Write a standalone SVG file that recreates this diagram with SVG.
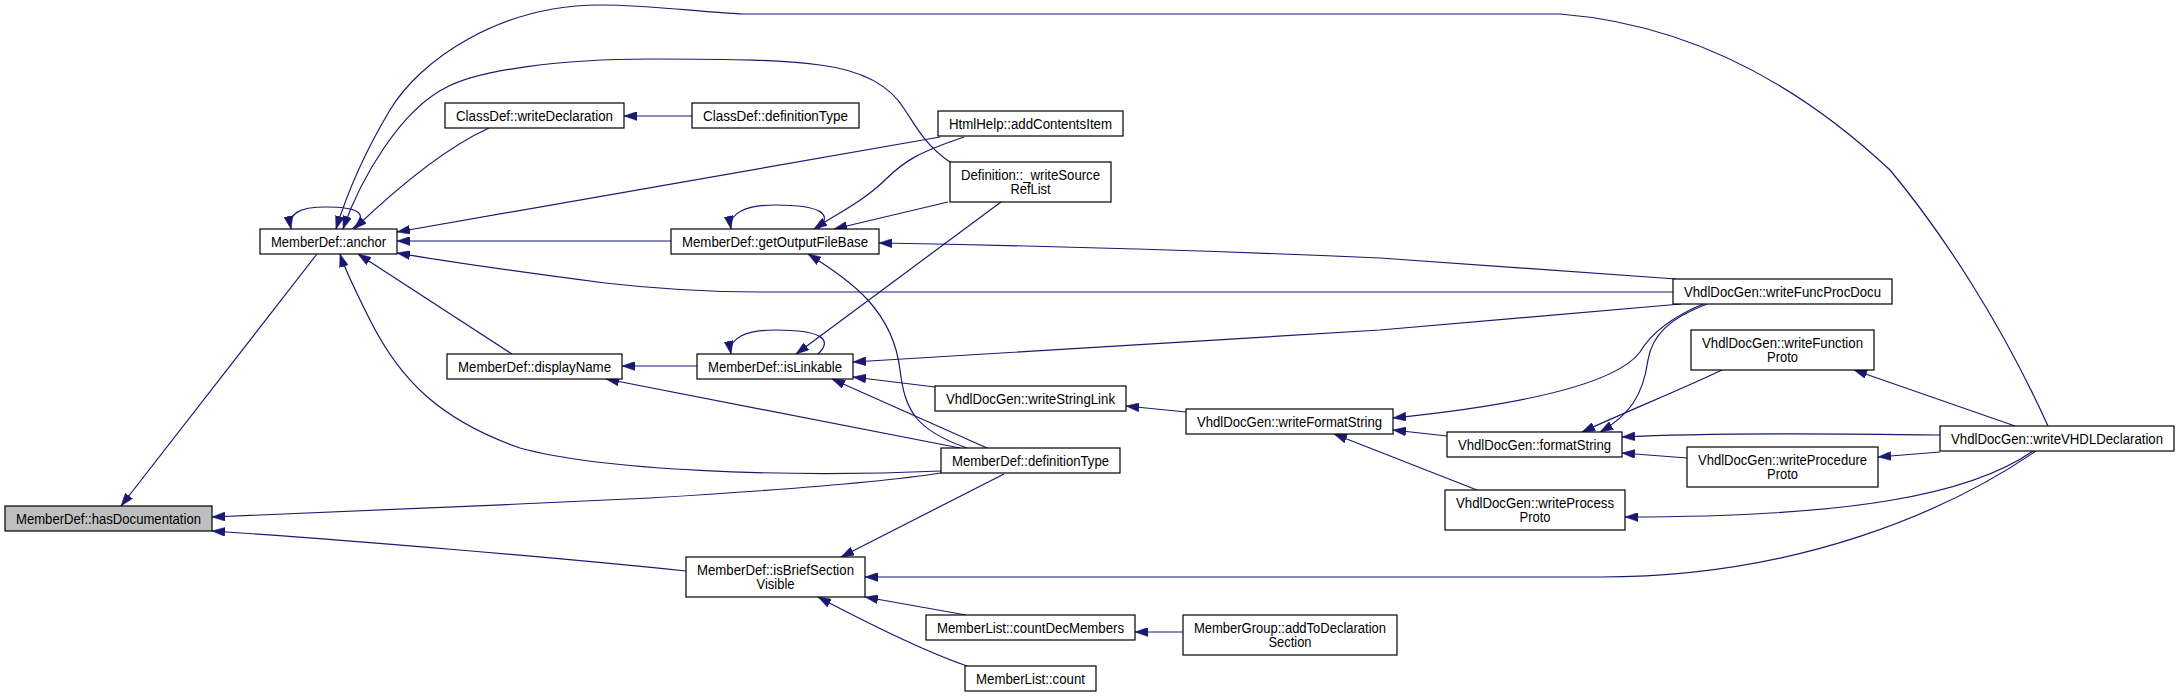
<svg xmlns="http://www.w3.org/2000/svg" width="2180" height="697" viewBox="0 0 2180 697">
<style>
.n rect{fill:#ffffff;stroke:#000000;stroke-width:1.2}
.n.h rect{fill:#bfbfbf}
.n text{font-family:"Liberation Sans",Arial,Helvetica,sans-serif;font-size:14px;fill:#000;text-anchor:middle}
.e path{fill:none;stroke:#191970;stroke-width:1.2;marker-end:url(#ah)}
</style>
<defs>
<marker id="ah" viewBox="0 0 13 9" refX="13" refY="4.5" markerWidth="13" markerHeight="9" markerUnits="userSpaceOnUse" orient="auto">
<path d="M0,0 L13,4.5 L0,9 z" fill="#191970" stroke="#191970" stroke-width="0.5"/>
</marker>
</defs>
<rect width="2180" height="697" fill="#ffffff"/>
<g id="edges" class="e">
<path d="M317,254 L121,506"/>
<path d="M686,571 C560,558 350,540 212,531"/>
<path d="M941,473 C870,484 750,492 650,498 C500,505 300,514 212,517"/>
<path d="M941,471 C780,478 600,470 520,448 C440,420 400,380 370,320 C355,290 345,270 340,254"/>
<path d="M512,354 L358,254"/>
<path d="M697,366 L622,366"/>
<path d="M960,448 L606,379"/>
<path d="M489,128 C445,148 400,185 354,229"/>
<path d="M692,116 L624,116"/>
<path d="M940,137 L397,232"/>
<path d="M950,162 C925,145 915,125 905,110 C890,85 860,70 820,65 C780,60 740,59 650,59 C560,59 480,70 447,87 C400,110 360,180 343,229"/>
<path d="M2048,426 C2000,320 1940,230 1890,170 C1810,95 1700,25 1560,14 L743,14 C700,12 650,5 600,5 C500,5 420,60 390,110 C360,160 345,200 336,229"/>
<path d="M671,241 L397,241"/>
<path d="M1673,292 L760,292 C700,292 640,287 605,283 C520,272 450,262 397,253"/>
<path d="M352,229 C368,215 362,207 326,207 C298,207 288,214 291,229"/>
<path d="M818,229 C834,214 820,205 776,205 C746,205 728,213 731,229"/>
<path d="M964,137 C920,152 905,160 885,180 C865,200 835,215 814,229"/>
<path d="M948,202 L834,229"/>
<path d="M1676,279 L1380,258 C1200,250 1000,245 879,243"/>
<path d="M1001,202 L796,354"/>
<path d="M818,354 C834,339 820,330 776,330 C746,330 728,338 731,354"/>
<path d="M1681,304 L1380,330 L853,362"/>
<path d="M935,387 L853,377"/>
<path d="M1186,412 L1126,406"/>
<path d="M1477,490 L1334,434"/>
<path d="M1447,436 L1393,430"/>
<path d="M1703,304 C1670,318 1650,335 1640,352 C1615,385 1520,405 1393,418"/>
<path d="M1707,304 C1670,318 1652,335 1648,360 C1643,395 1630,415 1600,432"/>
<path d="M1722,370 C1680,390 1630,410 1582,432"/>
<path d="M1940,435 C1800,433 1700,433 1622,437"/>
<path d="M1687,458 L1622,453"/>
<path d="M1940,452 L1878,457"/>
<path d="M2015,426 L1854,370"/>
<path d="M2033,451 C1970,495 1850,517 1625,517"/>
<path d="M2036,451 C1950,510 1800,577 1600,577 L865,577"/>
<path d="M966,615 L865,597"/>
<path d="M1183,632 L1135,632"/>
<path d="M967,666 C935,655 890,635 818,597"/>
<path d="M1004,474 L841,557"/>
<path d="M987,448 L832,379"/>
<path d="M967,448 C915,430 905,410 900,370 C893,310 850,280 808,254"/>
</g>
<g id="n_hasDocumentation" class="n h"><rect x="5" y="506" width="207" height="25"/><text x="108.5" y="523.5" textLength="185" lengthAdjust="spacingAndGlyphs">MemberDef::hasDocumentation</text></g>
<g id="n_anchor" class="n"><rect x="260" y="229" width="137" height="25"/><text x="328.5" y="246.5" textLength="115" lengthAdjust="spacingAndGlyphs">MemberDef::anchor</text></g>
<g id="n_writeDeclaration" class="n"><rect x="445" y="103" width="179" height="25"/><text x="534.5" y="120.5" textLength="157" lengthAdjust="spacingAndGlyphs">ClassDef::writeDeclaration</text></g>
<g id="n_classDefinitionType" class="n"><rect x="692" y="103" width="167" height="25"/><text x="775.5" y="120.5" textLength="145" lengthAdjust="spacingAndGlyphs">ClassDef::definitionType</text></g>
<g id="n_addContentsItem" class="n"><rect x="938" y="111" width="185" height="25"/><text x="1030.5" y="128.5" textLength="163" lengthAdjust="spacingAndGlyphs">HtmlHelp::addContentsItem</text></g>
<g id="n_writeSourceRefList" class="n"><rect x="950" y="162" width="161" height="40"/><text x="1030.5" y="180" textLength="139" lengthAdjust="spacingAndGlyphs">Definition::_writeSource</text><text x="1030.5" y="194" textLength="40" lengthAdjust="spacingAndGlyphs">RefList</text></g>
<g id="n_getOutputFileBase" class="n"><rect x="671" y="229" width="208" height="25"/><text x="775" y="246.5" textLength="186" lengthAdjust="spacingAndGlyphs">MemberDef::getOutputFileBase</text></g>
<g id="n_displayName" class="n"><rect x="447" y="354" width="175" height="25"/><text x="534.5" y="371.5" textLength="153" lengthAdjust="spacingAndGlyphs">MemberDef::displayName</text></g>
<g id="n_isLinkable" class="n"><rect x="697" y="354" width="156" height="25"/><text x="775" y="371.5" textLength="134" lengthAdjust="spacingAndGlyphs">MemberDef::isLinkable</text></g>
<g id="n_writeStringLink" class="n"><rect x="935" y="386" width="191" height="25"/><text x="1030.5" y="403.5" textLength="169" lengthAdjust="spacingAndGlyphs">VhdlDocGen::writeStringLink</text></g>
<g id="n_writeFormatString" class="n"><rect x="1186" y="409" width="207" height="25"/><text x="1289.5" y="426.5" textLength="185" lengthAdjust="spacingAndGlyphs">VhdlDocGen::writeFormatString</text></g>
<g id="n_definitionType" class="n"><rect x="941" y="448" width="179" height="25"/><text x="1030.5" y="465.5" textLength="157" lengthAdjust="spacingAndGlyphs">MemberDef::definitionType</text></g>
<g id="n_isBriefSectionVisible" class="n"><rect x="686" y="557" width="179" height="40"/><text x="775.5" y="575" textLength="157" lengthAdjust="spacingAndGlyphs">MemberDef::isBriefSection</text><text x="775.5" y="589" textLength="38" lengthAdjust="spacingAndGlyphs">Visible</text></g>
<g id="n_countDecMembers" class="n"><rect x="926" y="615" width="209" height="25"/><text x="1030.5" y="632.5" textLength="187" lengthAdjust="spacingAndGlyphs">MemberList::countDecMembers</text></g>
<g id="n_addToDeclarationSection" class="n"><rect x="1183" y="615" width="214" height="40"/><text x="1290" y="633" textLength="192" lengthAdjust="spacingAndGlyphs">MemberGroup::addToDeclaration</text><text x="1290" y="647" textLength="43" lengthAdjust="spacingAndGlyphs">Section</text></g>
<g id="n_count" class="n"><rect x="965" y="666" width="131" height="25"/><text x="1030.5" y="683.5" textLength="109" lengthAdjust="spacingAndGlyphs">MemberList::count</text></g>
<g id="n_writeFuncProcDocu" class="n"><rect x="1673" y="279" width="219" height="25"/><text x="1782.5" y="296.5" textLength="197" lengthAdjust="spacingAndGlyphs">VhdlDocGen::writeFuncProcDocu</text></g>
<g id="n_writeFunctionProto" class="n"><rect x="1691" y="330" width="183" height="40"/><text x="1782.5" y="348" textLength="161" lengthAdjust="spacingAndGlyphs">VhdlDocGen::writeFunction</text><text x="1782.5" y="362" textLength="31" lengthAdjust="spacingAndGlyphs">Proto</text></g>
<g id="n_formatString" class="n"><rect x="1447" y="432" width="175" height="25"/><text x="1534.5" y="449.5" textLength="153" lengthAdjust="spacingAndGlyphs">VhdlDocGen::formatString</text></g>
<g id="n_writeVHDLDeclaration" class="n"><rect x="1940" y="426" width="234" height="25"/><text x="2057" y="443.5" textLength="212" lengthAdjust="spacingAndGlyphs">VhdlDocGen::writeVHDLDeclaration</text></g>
<g id="n_writeProcedureProto" class="n"><rect x="1687" y="447" width="191" height="40"/><text x="1782.5" y="465" textLength="169" lengthAdjust="spacingAndGlyphs">VhdlDocGen::writeProcedure</text><text x="1782.5" y="479" textLength="31" lengthAdjust="spacingAndGlyphs">Proto</text></g>
<g id="n_writeProcessProto" class="n"><rect x="1445" y="490" width="180" height="40"/><text x="1535" y="508" textLength="158" lengthAdjust="spacingAndGlyphs">VhdlDocGen::writeProcess</text><text x="1535" y="522" textLength="31" lengthAdjust="spacingAndGlyphs">Proto</text></g>
</svg>
